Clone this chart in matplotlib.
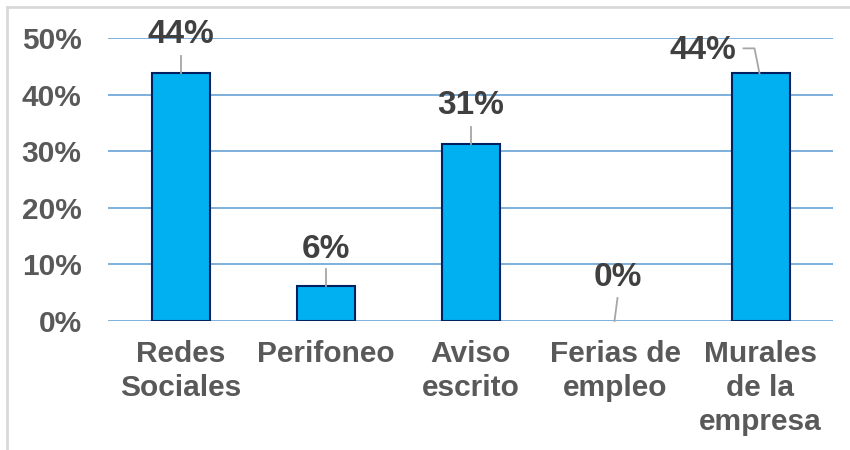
import matplotlib
matplotlib.use("Agg")
import matplotlib.pyplot as plt
from matplotlib.ticker import FuncFormatter
from matplotlib.lines import Line2D

categories = ["Redes\nSociales", "Perifoneo", "Aviso\nescrito", "Ferias de\nempleo", "Murales\nde la\nempresa"]
values = [0.4375, 0.0625, 0.3125, 0.0, 0.4375]
value_labels = ["44%", "6%", "31%", "0%", "44%"]
yticks = [0.0, 0.1, 0.2, 0.3, 0.4, 0.5]

plt.rcParams['font.family'] = ['Liberation Sans', 'DejaVu Sans']

W, H = 850, 450
fig = plt.figure(figsize=(8.5, 4.5), dpi=100)
ax = fig.add_axes([108 / W, (H - 321) / H, (833 - 108) / W, (321 - 38) / H])

x = list(range(len(categories)))
ax.bar(x, values, width=0.4, color="#00B0F0", edgecolor="#002060",
       linewidth=[1.5 if v > 0 else 0 for v in values], zorder=3)

ax.set_xlim(-0.5, len(categories) - 0.5)
ax.set_ylim(0, 0.5)
ax.set_yticks(yticks)
ax.yaxis.set_major_formatter(FuncFormatter(lambda v, p: f"{v*100:.0f}%"))
ax.set_xticks(x)
ax.set_xticklabels(categories, linespacing=1.27)
for lab in ax.get_xticklabels() + ax.get_yticklabels():
    lab.set_fontsize(21.5)
    lab.set_fontweight("bold")
    lab.set_color("#595959")
ax.tick_params(axis="both", length=0)
ax.tick_params(axis="x", pad=14)
ax.tick_params(axis="y", pad=19)
ax.grid(axis="y", color="#5B9BD5", linewidth=1.1, zorder=0)
ax.set_axisbelow(True)
for s in ax.spines.values():
    s.set_visible(False)

# data labels with leader lines (offsets in pixels)
label_offsets = [(0, 39), (0, 36), (0, 39), (2, 43), (-58, 23)]
for i, (v, lab) in enumerate(zip(values, value_labels)):
    dx, dy = label_offsets[i]
    ax.annotate(lab, (i, v), xytext=(dx, dy), textcoords="offset pixels",
                ha="center", va="center", fontsize=24, fontweight="bold",
                color="#404040", zorder=5)
    bx, by = ax.transData.transform((i, v))
    if i == 4:
        pts = [(bx - 17, by + 25), (bx - 6, by + 25), (bx - 1, by)]
    elif i == 3:
        pts = [(bx + 2, by + 23), (bx - 1, by)]
    else:
        pts = [(bx, by + 17), (bx, by)]
    fx = [p[0] / W for p in pts]
    fy = [p[1] / H for p in pts]
    fig.add_artist(Line2D(fx, fy, color="#A6A6A6", linewidth=1.3, zorder=6))

# chart border (top and left visible)
fig.add_artist(Line2D([7 / W, 7 / W], [0, (H - 7) / H], color="#D9D9D9", linewidth=2))
fig.add_artist(Line2D([7 / W, 1], [(H - 7) / H, (H - 7) / H], color="#D9D9D9", linewidth=2))

fig.savefig("out.png", dpi=100, facecolor="white")
